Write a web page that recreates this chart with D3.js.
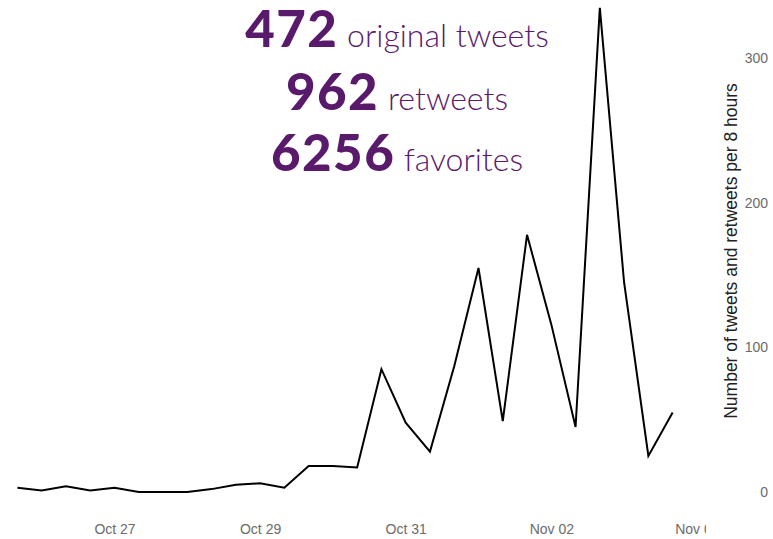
<!DOCTYPE html>
<html>
<head>
<meta charset="utf-8">
<script src="https://cdn.jsdelivr.net/npm/d3@7"></script>
<style>
body { margin: 0; background: #fff; }
</style>
</head>
<body>
<div id="graph"></div>
<script>
// counts per 8 hour bin, first bin starts at startTime
var startTime = "2015-10-25T16:00:00Z";
var binHours = 8;
var tweetCounts = [3, 1, 4, 1, 3, 0, 0, 0, 2, 5, 6, 3, 18, 18, 17, 85, 48, 28, 87, 155, 49, 178, 116, 45, 335, 145, 25, 55];
var xTickDates = ["2015-10-27", "2015-10-29", "2015-10-31", "2015-11-02", "2015-11-04"];
var yTicks = [0, 100, 200, 300];
var headlineNumbers = ["472", "962", "6256"];
var headlineWords = ["original tweets", "retweets", "favorites"];
var yTitle = "Number of tweets and retweets per 8 hours";

var width = 773, height = 539;
var purple = "#5a1a6c";

var svg = d3.select("#graph").append("svg")
    .attr("width", width)
    .attr("height", height);

var t0 = new Date(startTime);
var data = tweetCounts.map(function(c, i) {
    return {time: new Date(t0.getTime() + i * binHours * 3600 * 1000), count: c};
});
var tickDates = xTickDates.map(function(d) { return new Date(d + "T00:00:00Z"); });

// scales
var x = d3.scaleUtc()
    .domain([tickDates[0], tickDates[tickDates.length - 1]])
    .range([114.5, 114.5 + 8 * 72.8]);
var y = d3.scaleLinear()
    .domain([0, 300])
    .range([492, 58.5]);

// x axis (labels cut at the right edge like the original)
svg.append("clipPath").attr("id", "xclip")
  .append("rect").attr("x", 0).attr("y", 0).attr("width", 706).attr("height", height);

var xAxis = svg.append("g")
    .attr("clip-path", "url(#xclip)")
  .append("g")
    .attr("transform", "translate(0,524)")
    .call(d3.axisBottom(x).tickValues(tickDates).tickFormat(d3.utcFormat("%b %d")).tickSize(0).tickPadding(0));
xAxis.select(".domain").remove();
xAxis.selectAll("text")
    .attr("fill", "#6b6b6b")
    .style("font-family", "Liberation Sans, Arial, sans-serif")
    .style("font-size", "14px");

// y axis on the right
var yAxis = svg.append("g")
    .attr("transform", "translate(768,0)")
    .call(d3.axisRight(y).tickValues(yTicks).tickSize(0).tickPadding(0));
yAxis.select(".domain").remove();
yAxis.selectAll("text")
    .attr("text-anchor", "end")
    .attr("fill", "#6b6b6b")
    .style("font-family", "Liberation Sans, Arial, sans-serif")
    .style("font-size", "14px");

svg.append("text")
    .attr("transform", "translate(737,251) rotate(-90)")
    .attr("text-anchor", "middle")
    .attr("fill", "#222")
    .style("font-family", "Liberation Sans, Arial, sans-serif")
    .style("font-size", "17.5px")
    .text(yTitle);

// the line
var line = d3.line()
    .x(function(d) { return x(d.time); })
    .y(function(d) { return y(d.count); });

svg.append("path")
    .datum(data)
    .attr("fill", "none")
    .attr("stroke", "#000")
    .attr("stroke-width", 2)
    .attr("stroke-linejoin", "miter")
    .attr("d", line);

// headline
var baselines = [47, 110, 171];
headlineNumbers.forEach(function(n, i) {
    var t = svg.append("text")
        .attr("x", 397)
        .attr("y", baselines[i])
        .attr("text-anchor", "middle")
        .attr("fill", purple)
        .style("font-family", "Lato, sans-serif");
    t.append("tspan")
        .style("font-size", "51px")
        .style("font-weight", 900)
        .style("letter-spacing", "1.5px")
        .text(n);
    t.append("tspan")
        .style("font-size", "32px")
        .style("font-weight", 300)
        .text(" " + headlineWords[i]);
});
</script>
</body>
</html>
